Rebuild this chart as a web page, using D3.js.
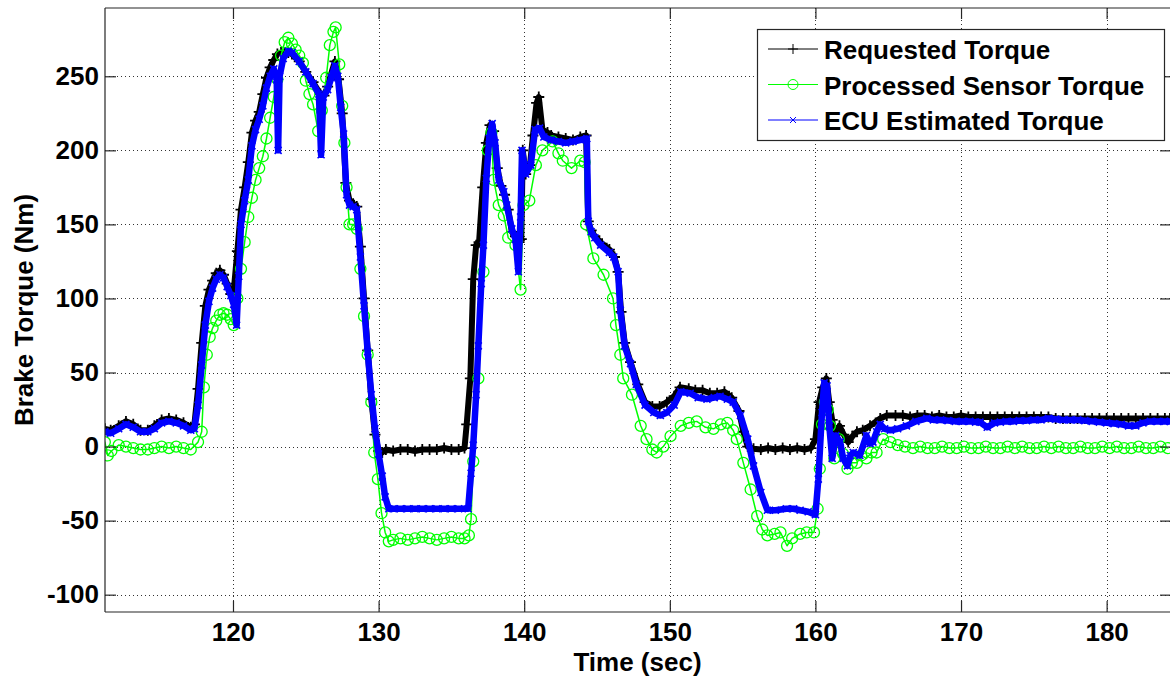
<!DOCTYPE html>
<html>
<head>
<meta charset="utf-8">
<script src="https://cdn.jsdelivr.net/npm/d3@7"></script>
<style>
  html, body { margin: 0; padding: 0; background: #fff; }
  svg { display: block; }
  text { font-family: "Liberation Sans", Arial, Helvetica, sans-serif; font-weight: bold; fill: #000; }
</style>
</head>
<body>
<svg id="chart" width="1170" height="679"></svg>
<script>
// ---------- data (time in s, torque in Nm) ----------
const xTicks = [120, 130, 140, 150, 160, 170, 180];
const yTicks = [-100, -50, 0, 50, 100, 150, 200, 250];
const seriesNames = ["Requested Torque", "Processed Sensor Torque", "ECU Estimated Torque"];

const requestedTorque = [
  [111.2,12],[111.6,11],[112.15,14],[112.65,17],[113.15,15],[113.65,11],[114.15,11],[114.6,14],[115.1,18],[115.6,19],
  [116.1,18],[116.6,16],[117.1,13],[117.35,15],[117.6,39],[117.85,70],[118.1,95],[118.35,106],[118.6,112],[118.85,117],
  [119.1,119],[119.35,116],[119.6,110],[119.85,103],[120.05,105],[120.3,132],[120.55,160],[120.8,175],[121.05,192],[121.3,212],
  [121.55,220],[121.8,226],[122.05,238],[122.3,249],[122.55,256],[122.8,261],[123.05,265],[123.3,266],[123.55,266],[123.8,266],
  [124.05,265],[124.55,260],[125.0,253],[125.5,246],[126.0,238],[126.25,237],[126.5,243],[126.75,252],[127.0,260],[127.25,248],
  [127.5,225],[127.75,178],[128.0,166],[128.25,164],[128.5,162],[128.75,135],[129.0,100],[129.25,65],[129.5,32],[129.75,8],
  [130.0,-3],[130.25,-4],[130.5,-2],[131.0,-3],[131.5,-2],[132.0,-2],[132.5,-3],[133.0,-2],[133.5,-2],[134.0,-2],
  [134.5,-1],[135.0,-2],[135.5,-2],[135.9,-1],[136.05,15],[136.3,46],[136.5,113],[136.7,136],[136.9,138],[137.15,175],
  [137.4,205],[137.65,217],[137.9,213],[138.15,188],[138.4,176],[138.65,170],[138.9,160],[139.15,145],[139.4,142],[139.65,138],
  [139.8,140],[139.9,200],[140.1,184],[140.4,190],[140.6,210],[140.85,232],[141.0,236],[141.25,214],[141.6,212],[141.85,210],
  [142.35,209],[142.85,208],[143.35,207],[143.85,209],[144.25,210],[144.4,152],[144.6,146],[144.85,142],[145.35,137],[145.85,133],
  [146.2,128],[146.45,118],[146.65,91],[146.9,70],[147.3,57],[147.8,42],[148.3,30],[148.8,27],[149.3,27],[149.8,30],
  [150.3,34],[150.7,40],[151.3,39],[151.75,38],[152.25,38],[152.75,36],[153.25,36],[153.75,37],[154.25,33],[154.75,24],
  [155.05,10],[155.35,0],[155.75,-1.5],[156.25,-2],[156.75,-1],[157.25,-2],[157.75,-1],[158.25,-2],[158.75,-1],[159.25,-2],
  [159.7,-1],[160.0,5],[160.25,30],[160.5,40],[160.75,46],[160.95,30],[161.15,18],[161.35,3],[161.65,14],[161.95,8],
  [162.25,3],[162.55,7],[162.85,10],[163.25,11],[163.75,14],[164.45,19],[164.9,21],[165.5,21],[166.0,21],[166.5,20],
  [167.0,21],[167.5,21],[168.0,20],[168.5,21],[169.0,20],[169.5,20],[170.0,21],[170.5,20],[171.0,20],[171.5,20],
  [172.0,20],[172.5,20],[173.0,20],[173.5,20],[174.0,20],[174.5,20],[175.0,20],[175.5,20],[176.0,20],[176.5,19],
  [177.0,19],[177.5,19],[178.0,19],[178.5,19],[179.0,19],[179.5,19],[180.0,19],[180.5,19],[181.0,19],[181.5,19],
  [182.0,19],[182.5,19],[183.0,19],[183.5,19],[184.0,19],[184.35,19]
];

const processedSensorTorque = [
  [111.2,3],[111.4,-6],[111.65,-3],[112.15,1],[112.65,0],[113.15,-1],[113.65,-2],[114.15,-2],[114.6,-1],[115.1,0],
  [115.6,-1],[116.1,0],[116.6,-1],[117.1,-2],[117.6,3],[117.85,10],[118.0,40],[118.2,62],[118.4,74],[118.6,80],
  [118.85,85],[119.1,89],[119.35,90],[119.6,89],[119.85,86],[120.05,82],[120.3,100],[120.55,120],[120.8,138],[121.05,155],
  [121.3,168],[121.55,180],[121.8,188],[122.05,196],[122.3,208],[122.55,222],[122.8,236],[123.05,248],[123.3,264],[123.55,273],
  [123.8,276],[124.05,272],[124.3,268],[124.55,264],[124.8,259],[125.0,247],[125.25,238],[125.5,231],[125.85,213],[126.1,227],
  [126.4,249],[126.65,271],[126.9,280],[127.05,283],[127.3,258],[127.5,230],[127.65,205],[127.8,175],[128.0,150],[128.25,150],
  [128.5,147],[128.75,120],[129.0,88],[129.25,62],[129.5,30],[129.7,-4],[129.95,-22],[130.2,-45],[130.45,-58],[130.7,-64],
  [131.0,-63],[131.5,-62],[132.0,-63],[132.5,-62],[133.0,-61],[133.5,-62],[134.0,-63],[134.5,-62],[135.0,-61],[135.5,-62],
  [135.9,-62],[136.2,-60],[136.35,-49],[136.5,-10],[136.85,46],[137.2,118],[137.5,200],[137.75,212],[137.9,180],[138.25,163],
  [138.6,156],[138.9,141],[139.4,136],[139.75,106],[139.95,163],[140.35,166],[140.8,190],[141.25,200],[141.95,206],[142.35,198],
  [142.65,193],[143.25,188],[143.85,193],[144.15,192],[144.25,150],[144.75,127],[145.45,116],[146.1,100],[146.3,82],[146.6,62],
  [146.8,46],[147.4,35],[148.0,14],[148.4,5],[148.8,-2],[149.1,-4],[149.55,0],[150.05,7],[150.75,14],[151.3,16],
  [151.85,17],[152.45,13],[153.0,12],[153.5,15],[153.95,16],[154.35,11],[154.6,5],[155.05,-11],[155.55,-29],[156.0,-47],
  [156.35,-56],[156.7,-60],[157.2,-59],[157.6,-58],[158.05,-67],[158.4,-62],[158.95,-59],[159.4,-58],[159.9,-58],[160.15,-42],
  [160.3,-15],[160.45,15],[160.65,30],[160.85,25],[161.0,14],[161.3,-8],[161.6,5],[161.9,-5],[162.2,-15],[162.5,-11],
  [162.85,-11],[163.15,-6],[163.5,-8],[163.85,-4],[164.2,-4],[164.65,5],[165.15,3],[165.65,1],[166.15,0],[166.7,-1],
  [167.2,0],[167.7,-1],[168.2,-1],[168.7,0],[169.2,-1],[169.7,-1],[170.2,0],[170.7,-1],[171.2,-1],[171.7,0],
  [172.2,-1],[172.7,-1],[173.2,0],[173.7,-1],[174.2,0],[174.7,-1],[175.2,-1],[175.7,0],[176.2,-1],[176.7,0],
  [177.2,-1],[177.7,-1],[178.2,0],[178.7,-1],[179.2,-1],[179.7,0],[180.2,-1],[180.7,0],[181.2,-1],[181.7,-1],
  [182.2,0],[182.7,-1],[183.2,-1],[183.7,0],[184.2,-1]
];

const ecuEstimatedTorque = [
  [111.2,10],[111.6,9],[112.15,12],[112.65,15],[113.15,13],[113.65,10],[114.15,10],[114.6,12],[115.1,16],[115.6,17],
  [116.1,16],[116.6,14],[117.1,11],[117.35,12],[117.6,28],[117.85,55],[118.1,82],[118.35,98],[118.6,107],[118.85,113],
  [119.1,116],[119.35,114],[119.6,108],[119.85,102],[120.05,96],[120.25,82],[120.4,115],[120.55,150],[120.8,166],[121.05,180],
  [121.3,203],[121.55,214],[121.8,221],[122.05,230],[122.3,242],[122.55,250],[122.8,255],[123.0,248],[123.1,200],[123.2,250],
  [123.45,262],[123.8,267],[124.05,266],[124.55,260],[125.0,253],[125.5,245],[125.9,238],[126.05,197],[126.2,236],[126.5,241],
  [126.75,249],[127.0,257],[127.2,250],[127.4,229],[127.6,211],[127.8,170],[128.0,163],[128.25,162],[128.5,160],[128.75,128],
  [129.0,95],[129.25,64],[129.5,35],[129.75,12],[130.0,-5],[130.25,-20],[130.45,-34],[130.7,-42],[131.0,-42],[131.5,-42],
  [132.0,-42],[132.5,-42],[133.0,-42],[133.5,-42],[134.0,-42],[134.5,-42],[135.0,-42],[135.5,-42],[136.15,-42],[136.35,-18],
  [136.5,1],[136.7,35],[136.85,68],[137.05,110],[137.2,136],[137.4,181],[137.6,208],[137.8,218],[138.0,205],[138.25,180],
  [138.6,172],[138.8,163],[139.15,147],[139.4,140],[139.6,118],[139.75,155],[139.85,200],[140.1,184],[140.45,190],[140.75,214],
  [141.05,215],[141.35,209],[141.85,207],[142.35,206],[142.85,205],[143.35,206],[143.85,207],[144.3,208],[144.4,152],[144.6,145],
  [144.85,141],[145.25,136],[145.85,131],[146.15,128],[146.45,118],[146.6,92],[146.9,68],[147.3,56],[147.7,42],[148.3,28],
  [148.9,23],[149.35,21],[149.8,23],[150.3,28],[150.75,37],[151.4,36],[151.95,33],[152.55,32],[153.05,33],[153.45,34],
  [153.95,32],[154.35,30],[154.85,21],[155.35,5],[155.75,-13],[156.25,-31],[156.7,-43],[157.25,-43],[158.0,-42],[158.5,-42],
  [158.95,-43],[159.5,-44],[160.0,-46],[160.2,-22],[160.45,23],[160.6,43],[160.8,41],[160.95,14],[161.15,-8],[161.4,7.5],
  [161.7,3],[161.9,-8],[162.2,-13],[162.4,-6],[162.6,-4],[163.05,-6],[163.5,7.5],[163.75,2],[163.95,3],[164.2,10],
  [164.45,15],[164.75,12],[165.15,11],[165.65,12],[166.25,14],[166.9,17],[167.65,19],[168.1,18],[168.6,18],[169.1,17.5],
  [169.6,17],[170.1,17],[170.6,17],[171.0,16.5],[171.3,16.5],[171.8,13],[172.3,16],[172.7,16.5],[173.1,17],[173.6,17],
  [174.0,17.5],[174.5,17.5],[175.0,18],[175.5,18],[176.0,19],[176.5,18.5],[177.0,18],[177.5,18],[178.0,18],[178.5,17.5],
  [179.0,17],[179.5,16.5],[180.0,16],[180.5,15.5],[181.0,15],[181.5,14],[182.0,14],[182.5,16],[183.0,17],[183.5,17],
  [184.0,17],[184.35,17]
];

// ---------- layout ----------
const svg = d3.select("#chart");
const L = 105, T = 8, R = 1171, B = 612;
const x = d3.scaleLinear().domain([111.21, 184.42]).range([L, R]);
const y = d3.scaleLinear().domain([-111.7, 296.1]).range([B, T]);
const axisColor = "#262626";

svg.append("defs").append("clipPath").attr("id", "plotClip")
  .append("rect").attr("x", L).attr("y", T).attr("width", R - L).attr("height", B - T);

// grid (dotted)
const grid = svg.append("g").attr("stroke", "#333").attr("stroke-width", 1).attr("stroke-dasharray", "1,3");
grid.selectAll(".gx").data(xTicks).join("line")
  .attr("x1", d => Math.round(x(d)) + 0.5).attr("x2", d => Math.round(x(d)) + 0.5)
  .attr("y1", T).attr("y2", B);
grid.selectAll(".gy").data(yTicks).join("line")
  .attr("y1", d => Math.round(y(d)) + 0.5).attr("y2", d => Math.round(y(d)) + 0.5)
  .attr("x1", L).attr("x2", R);

// series
const line = d3.line().x(d => x(d[0])).y(d => y(d[1]));
const plot = svg.append("g").attr("clip-path", "url(#plotClip)");

const plusPath = "M-5.5,0H5.5M0,-5.5V5.5";
const crossPath = "M-3.5,-3.5L3.5,3.5M-3.5,3.5L3.5,-3.5";
const legendPlus = "M-5,0H5M0,-5V5";
const legendCross = "M-3,-3L3,3M-3,3L3,-3";

function drawSeries(data, color, lineWidth, marker) {
  const g = plot.append("g");
  g.append("path").datum(data).attr("d", line)
    .attr("fill", "none").attr("stroke", color).attr("stroke-width", lineWidth)
    .attr("stroke-linejoin", "round").attr("stroke-linecap", "round");
  if (marker === "circle") {
    g.selectAll("circle").data(data).join("circle")
      .attr("cx", d => x(d[0])).attr("cy", d => y(d[1])).attr("r", 5.5)
      .attr("fill", "none").attr("stroke", color).attr("stroke-width", 1.3);
  } else {
    g.selectAll("path.m").data(data).join("path").attr("class", "m")
      .attr("transform", d => `translate(${x(d[0])},${y(d[1])})`)
      .attr("d", marker === "plus" ? plusPath : crossPath)
      .attr("fill", "none").attr("stroke", color).attr("stroke-width", marker === "plus" ? 1.8 : 1.6);
  }
}
drawSeries(requestedTorque, "#000000", 6, "plus");
drawSeries(processedSensorTorque, "#00ff00", 1.5, "circle");
drawSeries(ecuEstimatedTorque, "#0000ff", 6.5, "cross");

// axes
const fmt = d => String(d);
const axB = svg.append("g").attr("transform", `translate(0,${B})`)
  .call(d3.axisBottom(x).tickValues(xTicks).tickFormat(fmt).tickSize(-11).tickPadding(11));
const axL = svg.append("g").attr("transform", `translate(${L},0)`)
  .call(d3.axisLeft(y).tickValues(yTicks).tickFormat(fmt).tickSize(-11).tickPadding(6));
const axT = svg.append("g").attr("transform", `translate(0,${T})`)
  .call(d3.axisTop(x).tickValues(xTicks).tickFormat("").tickSize(-11));
const axR = svg.append("g").attr("transform", `translate(${R},0)`)
  .call(d3.axisRight(y).tickValues(yTicks).tickFormat("").tickSize(-11));
[axB, axL, axT, axR].forEach(a => {
  a.selectAll(".domain").attr("stroke", axisColor).attr("stroke-width", 1.2);
  a.selectAll(".tick line").attr("stroke", axisColor).attr("stroke-width", 1.2);
  a.selectAll("text").attr("font-size", 26).attr("font-weight", "bold")
    .attr("font-family", '"Liberation Sans", Arial, sans-serif').attr("fill", "#000");
});
axB.selectAll(".domain").attr("d", `M${L},0H${R}`);
axT.selectAll(".domain").attr("d", `M${L},0H${R}`);
axL.selectAll(".domain").attr("d", `M0,${T}V${B}`);
axR.selectAll(".domain").attr("d", `M0,${T}V${B}`);

// axis titles
svg.append("text").attr("x", (L + 1170) / 2).attr("y", 671).attr("text-anchor", "middle")
  .attr("font-size", 26).text("Time (sec)");
svg.append("text").attr("transform", "translate(33,310) rotate(-90)").attr("text-anchor", "middle")
  .attr("font-size", 26).text("Brake Torque (Nm)");

// legend
const lg = svg.append("g");
lg.append("rect").attr("x", 757.5).attr("y", 29.5).attr("width", 407).attr("height", 111)
  .attr("fill", "#fff").attr("stroke", axisColor).attr("stroke-width", 1.2);
const legendItems = [
  { name: seriesNames[0], color: "#000000", marker: "plus" },
  { name: seriesNames[1], color: "#00ff00", marker: "circle" },
  { name: seriesNames[2], color: "#0000ff", marker: "cross" }
];
legendItems.forEach((it, i) => {
  const cy = 49 + i * 35.5;
  lg.append("line").attr("x1", 768).attr("x2", 818).attr("y1", cy).attr("y2", cy)
    .attr("stroke", it.color).attr("stroke-width", 1);
  if (it.marker === "circle") {
    lg.append("circle").attr("cx", 793).attr("cy", cy).attr("r", 5)
      .attr("fill", "none").attr("stroke", it.color).attr("stroke-width", 1);
  } else {
    lg.append("path").attr("transform", `translate(793,${cy})`)
      .attr("d", it.marker === "plus" ? legendPlus : legendCross)
      .attr("fill", "none").attr("stroke", it.color).attr("stroke-width", 1);
  }
  lg.append("text").attr("x", 824).attr("y", cy + 10).attr("font-size", 26).text(it.name);
});
</script>
</body>
</html>
